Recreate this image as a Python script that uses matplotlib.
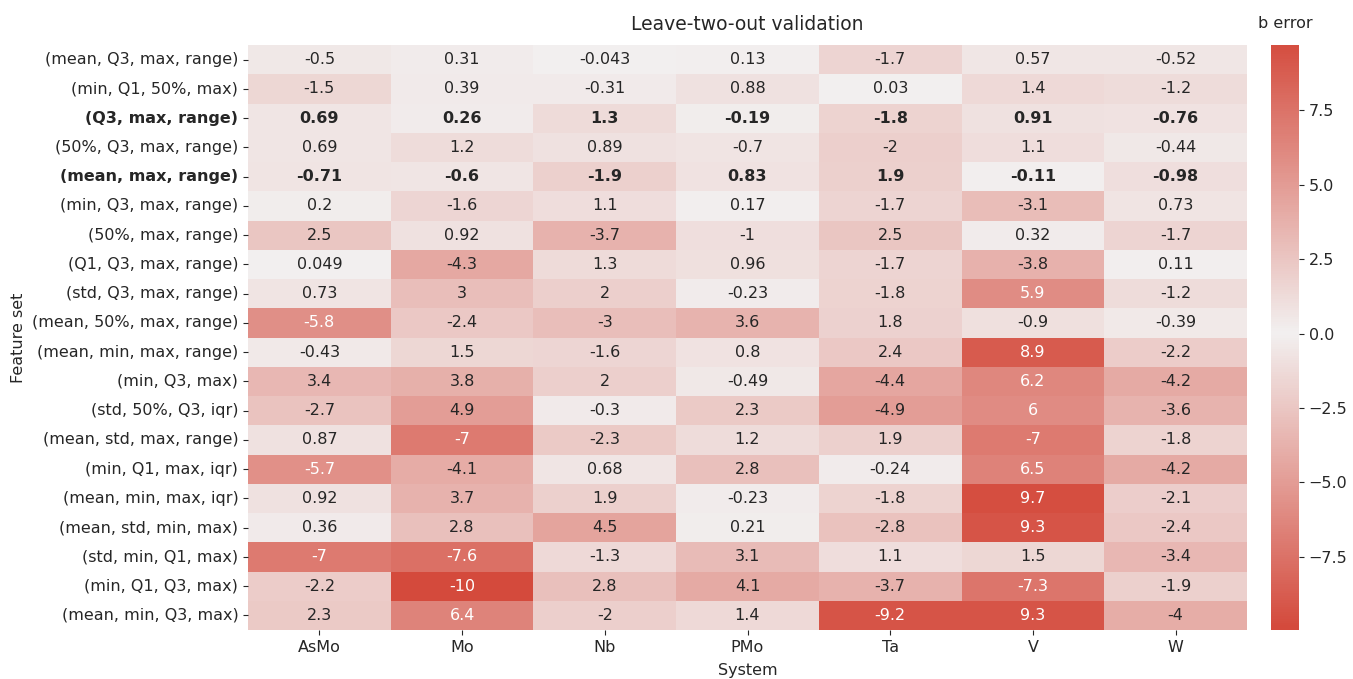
import numpy as np
import pandas as pd
import matplotlib
matplotlib.use("Agg")
import matplotlib.pyplot as plt
import seaborn as sns
from matplotlib.colors import LinearSegmentedColormap

systems = ["AsMo", "Mo", "Nb", "PMo", "Ta", "V", "W"]
feature_sets = [
    "(mean, Q3, max, range)", "(min, Q1, 50%, max)", "(Q3, max, range)",
    "(50%, Q3, max, range)", "(mean, max, range)", "(min, Q3, max, range)",
    "(50%, max, range)", "(Q1, Q3, max, range)", "(std, Q3, max, range)",
    "(mean, 50%, max, range)", "(mean, min, max, range)", "(min, Q3, max)",
    "(std, 50%, Q3, iqr)", "(mean, std, max, range)", "(min, Q1, max, iqr)",
    "(mean, min, max, iqr)", "(mean, std, min, max)", "(std, min, Q1, max)",
    "(min, Q1, Q3, max)", "(mean, min, Q3, max)",
]
bold_rows = ["(Q3, max, range)", "(mean, max, range)"]

AsMo = [-0.5, -1.5, 0.69, 0.69, -0.71, 0.2, 2.5, 0.049, 0.73, -5.8, -0.43, 3.4, -2.7, 0.87, -5.7, 0.92, 0.36, -7, -2.2, 2.3]
Mo = [0.31, 0.39, 0.26, 1.2, -0.6, -1.6, 0.92, -4.3, 3, -2.4, 1.5, 3.8, 4.9, -7, -4.1, 3.7, 2.8, -7.6, -9.96, 6.4]
Nb = [-0.043, -0.31, 1.3, 0.89, -1.9, 1.1, -3.7, 1.3, 2, -3, -1.6, 2, -0.3, -2.3, 0.68, 1.9, 4.5, -1.3, 2.8, -2]
PMo = [0.13, 0.88, -0.19, -0.7, 0.83, 0.17, -1, 0.96, -0.23, 3.6, 0.8, -0.49, 2.3, 1.2, 2.8, -0.23, 0.21, 3.1, 4.1, 1.4]
Ta = [-1.7, 0.03, -1.8, -2, 1.9, -1.7, 2.5, -1.7, -1.8, 1.8, 2.4, -4.4, -4.9, 1.9, -0.24, -1.8, -2.8, 1.1, -3.7, -9.2]
V = [0.57, 1.4, 0.91, 1.1, -0.11, -3.1, 0.32, -3.8, 5.9, -0.9, 8.9, 6.2, 6, -7, 6.5, 9.7, 9.3, 1.5, -7.3, 9.3]
W = [-0.52, -1.2, -0.76, -0.44, -0.98, 0.73, -1.7, 0.11, -1.2, -0.39, -2.2, -4.2, -3.6, -1.8, -4.2, -2.1, -2.4, -3.4, -1.9, -4]

df = pd.DataFrame({"AsMo": AsMo, "Mo": Mo, "Nb": Nb, "PMo": PMo, "Ta": Ta, "V": V, "W": W},
                  index=feature_sets)

plt.rcParams.update({
    "text.color": "#262626",
    "axes.labelcolor": "#262626",
    "xtick.color": "#262626",
    "ytick.color": "#262626",
})

end = "#d44a3c"
mid = "#f2f0f0"
cmap = LinearSegmentedColormap.from_list("redwhitered", [end, mid, end])

fs = 11.5
fig = plt.figure(figsize=(13.53, 6.79), dpi=100)
ax = fig.add_axes([248/1353, 1-630/679, (1247-248)/1353, (630-45)/679])
cax = fig.add_axes([1271/1353, 1-630/679, 28/1353, (630-45)/679])

sns.heatmap(df, ax=ax, cbar_ax=cax, cmap=cmap, annot=True, fmt=".2g",
            annot_kws={"fontsize": fs}, center=0)

ncol = len(systems)
for i, t in enumerate(ax.texts):
    r = i // ncol
    if feature_sets[r] in bold_rows:
        t.set_fontweight("bold")

ax.set_title("Leave-two-out validation", fontsize=13.5, pad=11)
ax.set_xlabel("System", fontsize=fs, labelpad=6)
ax.set_ylabel("Feature set", fontsize=fs)
ax.tick_params(axis="both", labelsize=fs)
ax.set_yticklabels(feature_sets, rotation=0)
for lab in ax.get_yticklabels():
    if lab.get_text() in bold_rows:
        lab.set_fontweight("bold")
cax.tick_params(labelsize=fs)
cax.set_title("b error", fontsize=fs, pad=12)
for s in cax.spines.values():
    s.set_visible(False)

fig.savefig("out.png", dpi=100)
